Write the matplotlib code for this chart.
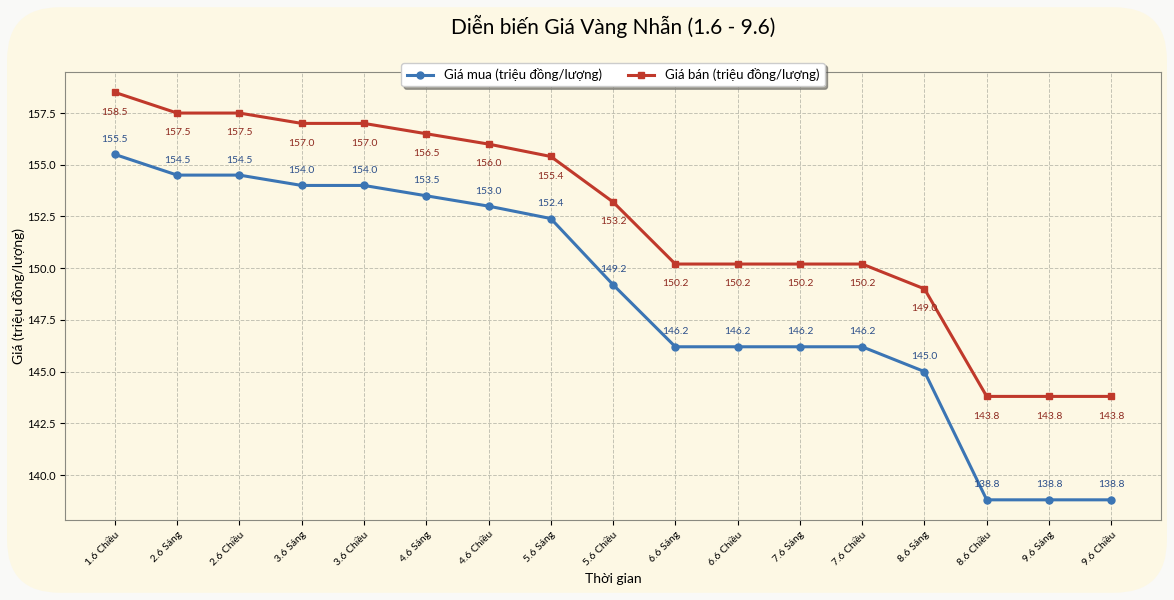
import matplotlib
matplotlib.use("Agg")
import matplotlib.pyplot as plt
from matplotlib.patches import FancyBboxPatch

plt.rcParams['font.family'] = ['Lato', 'DejaVu Sans']

# Data
labels = ["1.6 Chiều", "2.6 Sáng", "2.6 Chiều", "3.6 Sáng", "3.6 Chiều", "4.6 Sáng",
          "4.6 Chiều", "5.6 Sáng", "5.6 Chiều", "6.6 Sáng", "6.6 Chiều", "7.6 Sáng",
          "7.6 Chiều", "8.6 Sáng", "8.6 Chiều", "9.6 Sáng", "9.6 Chiều"]
gia_mua = [155.5, 154.5, 154.5, 154.0, 154.0, 153.5, 153.0, 152.4, 149.2,
           146.2, 146.2, 146.2, 146.2, 145.0, 138.8, 138.8, 138.8]
gia_ban = [158.5, 157.5, 157.5, 157.0, 157.0, 156.5, 156.0, 155.4, 153.2,
           150.2, 150.2, 150.2, 150.2, 149.0, 143.8, 143.8, 143.8]

cream = '#fdf8e4'
blue = '#3b75b4'
red = '#c0392b'

fig = plt.figure(figsize=(11.74, 6), dpi=100)
fig.patch.set_facecolor('#f9f9f7')

# rounded background card
card = FancyBboxPatch((0.006, 0.012), 0.988, 0.976,
                      boxstyle="round,pad=0,rounding_size=0.045",
                      transform=fig.transFigure, facecolor=cream,
                      edgecolor='none', zorder=-10, mutation_aspect=1.96)
fig.patches.append(card)

ax = fig.add_axes([0.0554, 0.133, 0.9336, 0.747])
ax.set_facecolor(cream)

x = list(range(len(labels)))
ax.plot(x, gia_mua, color=blue, marker='o', markersize=5, linewidth=2.2,
        label='Giá mua (triệu đồng/lượng)')
ax.plot(x, gia_ban, color=red, marker='s', markersize=5, linewidth=2.2,
        label='Giá bán (triệu đồng/lượng)')

for xi, v in zip(x, gia_mua):
    ax.annotate(f"{v:.1f}", (xi, v), textcoords='offset points', xytext=(0, 9),
                ha='center', fontsize=7.5, color='#2c4f8a')
for xi, v in zip(x, gia_ban):
    ax.annotate(f"{v:.1f}", (xi, v), textcoords='offset points', xytext=(0, -16),
                ha='center', fontsize=7.5, color='#8e2a20')

ax.set_xticks(x)
ax.set_xticklabels(labels, rotation=45, ha='right', rotation_mode='anchor', fontsize=7.5)
ax.tick_params(axis='y', labelsize=8)
ax.grid(True, linestyle='--', color='#b5b5a8', linewidth=0.7, alpha=0.8)
for s in ax.spines.values():
    s.set_color('#8a8a80')

ax.set_xlabel('Thời gian', fontsize=10)
ax.set_ylabel('Giá (triệu đồng/lượng)', fontsize=10, labelpad=1)
ax.set_title('Diễn biến Giá Vàng Nhẫn (1.6 - 9.6)', fontsize=15, pad=27)

leg = ax.legend(loc='upper center', bbox_to_anchor=(0.5, 1.035), ncol=2,
                fontsize=9.5, fancybox=True, shadow=True, framealpha=1)

fig.savefig('out.png', dpi=100, facecolor=fig.get_facecolor())
